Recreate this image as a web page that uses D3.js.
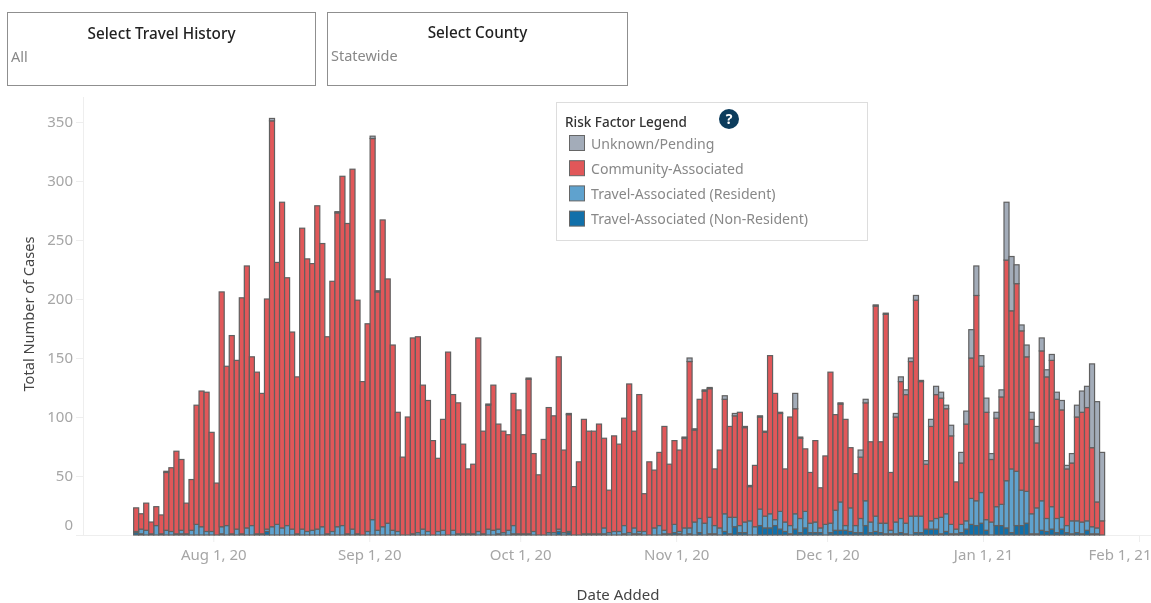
<!DOCTYPE html>
<html>
<head>
    <meta http-equiv="content-type" content="text/html; charset=utf-8" />
    <style>
        html, body { margin: 0; padding: 0; background: #fff; overflow: hidden; }
        svg { display: block; font-family: "Noto Sans", sans-serif; filter: blur(0.45px); }
    </style>
</head>
<body>
    <svg width="1151" height="603"></svg>

    <script src="https://d3js.org/d3.v7.min.js"></script>
    <script>
        // daily counts, first bar is Jul 17 2020, last is Jan 25 2021
        const firstDay = new Date(2020, 6, 17)

        const nonResident = [
            2,1,0,0,0,0,0,0,0,1, 0,0,0,0,0,0,0,1,0,0,
            0,0,0,0,0,0,3,0,0,0, 0,0,0,0,0,0,0,0,0,0,
            0,0,0,0,0,0,0,0,0,0, 0,0,0,0,0,0,0,0,0,0,
            0,0,0,0,0,0,0,0,0,0, 0,0,1,0,0,1,0,0,0,0,
            0,0,0,0,3,0,2,0,0,0, 0,0,0,1,0,0,0,1,0,1,
            1,0,0,0,0,1,0,2,1,0, 1,0,2,0,1,1,0,3,1,7,
            2,2,0,0,8,6,6,8,5,3, 1,5,2,6,2,2,2,0,2,4,
            4,4,3,2,2,8,2,3,2,1, 1,1,2,1,0,2,2,5,5,5,
            1,3,1,1,2,5,9,8,10,4, 0,8,8,6,2,8,8,10,1,1,
            4,3,5,2,5,2,1,2,1,4, 1,1,0
        ]
        const resident = [
            1,4,4,1,8,1,4,3,1,3, 1,4,9,7,3,3,0,6,8,1,
            5,1,6,8,1,1,2,7,9,6, 8,5,1,5,3,4,5,7,1,3,
            7,8,1,5,1,0,3,13,4,7, 10,4,3,0,0,1,2,5,3,0,
            3,4,0,4,1,1,1,1,3,1, 5,4,4,2,4,7,1,1,1,3,
            0,0,2,2,2,2,1,0,0,1, 1,1,1,5,2,3,3,7,2,5,
            2,3,0,6,8,3,1,7,2,6, 5,11,12,10,14,7,6,15,14,8,
            6,9,12,7,14,10,12,5,15,8, 7,13,12,14,8,9,4,9,8,17,
            24,4,20,6,12,21,9,13,8,9, 3,10,12,9,16,14,14,0,7,9,
            14,15,8,4,7,7,22,21,26,9, 11,16,18,40,54,46,30,27,17,22,
            25,11,19,12,10,6,11,10,10,8, 6,5,0
        ]
        const community = [
            20,13,23,10,16,16,49,54,70,60, 26,43,101,115,118,84,44,199,135,168,
            143,200,222,143,137,119,195,344,222,276, 210,167,133,255,231,226,274,240,167,212,
            266,296,263,305,198,130,176,323,202,260, 207,157,101,66,100,166,166,122,111,80,
            62,94,155,115,111,76,55,59,164,87, 105,123,89,86,81,112,105,84,131,66,
            51,81,106,99,146,70,99,41,62,97, 87,87,93,76,36,81,74,91,126,82,
            116,32,62,49,62,88,59,71,69,76, 141,78,101,112,109,48,66,97,77,86,
            96,80,29,52,78,71,134,107,83,45, 92,89,68,53,43,69,34,58,128,81,
            83,90,51,44,52,83,68,178,69,177, 49,89,116,109,131,183,114,55,80,105,
            101,89,75,40,52,82,119,174,107,91, 53,75,91,187,134,159,135,114,80,55,
            127,120,124,101,91,48,49,88,93,96, 67,22,12
        ]
        const unknown = [
            0,0,0,0,0,0,1,0,0,0, 0,0,0,0,0,0,0,0,0,0,
            0,0,0,0,0,0,0,2,0,0, 0,0,0,0,0,0,0,0,0,0,
            1,0,0,0,0,0,0,2,1,0, 0,0,0,0,0,0,0,0,0,0,
            0,0,0,0,0,0,0,0,0,0, 1,0,0,0,0,0,0,0,1,0,
            0,0,0,0,0,0,1,0,0,0, 0,0,0,0,0,0,0,0,0,0,
            0,0,0,0,0,0,0,0,0,1, 3,1,0,1,1,0,0,3,0,2,
            0,1,1,0,1,1,0,0,1,0, 0,13,1,0,0,0,0,0,0,0,
            1,0,0,0,6,3,0,1,0,1, 0,3,4,4,3,4,1,3,6,7,
            5,3,9,0,9,11,24,25,9,12, 5,5,6,49,46,16,5,10,6,14,
            11,6,5,6,8,3,8,10,18,18, 71,85,58
        ]

        const seriesNames = ['Unknown/Pending', 'Community-Associated', 'Travel-Associated (Resident)', 'Travel-Associated (Non-Resident)']
        const seriesColors = ['#a3acb9', '#e15759', '#5fa2ce', '#1170aa']

        const yTicks = [0, 50, 100, 150, 200, 250, 300, 350]
        const xTicks = [new Date(2020, 7, 1), new Date(2020, 8, 1), new Date(2020, 9, 1), new Date(2020, 10, 1), new Date(2020, 11, 1), new Date(2021, 0, 1), new Date(2021, 1, 1)]

        const svg = d3.select('svg')

        const x = d3.scaleTime()
            .domain([xTicks[0], xTicks[6]])
            .range([213.3, 1139])
        const y = d3.scaleLinear()
            .domain([0, 350])
            .range([535, 122])

        // table for the stack, one row per day
        const rows = community.map((c, i) => ({
            date: d3.timeHour.offset(d3.timeDay.offset(firstDay, i), -8),
            nonResident: nonResident[i],
            resident: resident[i],
            community: c,
            unknown: unknown[i]
        }))

        // bottom segment first
        const keys = ['nonResident', 'resident', 'community', 'unknown']
        const colorOf = { nonResident: seriesColors[3], resident: seriesColors[2], community: seriesColors[1], unknown: seriesColors[0] }
        const stacked = d3.stack().keys(keys)(rows)

        const barW = 5.03

        // axes
        const yAxis = d3.axisLeft(y).tickValues(yTicks).tickSize(7).tickPadding(3)
        const xAxis = d3.axisBottom(x).tickValues(xTicks).tickSize(7).tickPadding(7)
            .tickFormat(d3.timeFormat('%b %-d, %y'))

        const gy = svg.append('g').attr('transform', 'translate(83,0)').call(yAxis)
        const gx = svg.append('g').attr('transform', 'translate(0,535)').call(xAxis)

        gy.select('.domain').attr('d', 'M0.5,97V535').attr('stroke', '#eeeeee')
        gx.select('.domain').attr('d', 'M83,0.5H1151').attr('stroke', '#eeeeee')
        svg.selectAll('.tick line').attr('stroke', '#eeeeee')
        svg.selectAll('.tick text').attr('fill', '#a6a6a6').attr('font-size', 15).attr('font-family', '"Noto Sans", sans-serif')

        // first label sits above the baseline, last one is pulled in from the edge
        gy.selectAll('.tick text').filter(d => d === 0).attr('y', -10)
        gx.selectAll('.tick text').filter(d => +d === +xTicks[6]).attr('text-anchor', 'end').attr('x', 12)

        // bars
        svg.append('g').selectAll('g')
            .data(stacked)
            .join('g')
            .attr('fill', d => colorOf[d.key])
            .selectAll('rect')
            .data(d => d.filter(p => p[1] > p[0]))
            .join('rect')
            .attr('x', d => x(d.data.date) - barW / 2)
            .attr('y', d => y(d[1]))
            .attr('width', barW)
            .attr('height', d => y(d[0]) - y(d[1]))
            .attr('stroke', '#606060')
            .attr('stroke-width', 1.2)

        // axis titles
        svg.append('text')
            .attr('x', 618).attr('y', 600)
            .attr('text-anchor', 'middle')
            .attr('fill', '#444').attr('font-size', 15)
            .text('Date Added')
        svg.append('text')
            .attr('transform', 'translate(34,314) rotate(-90)')
            .attr('text-anchor', 'middle')
            .attr('fill', '#444').attr('font-size', 14.6)
            .text('Total Number of Cases')

        // the two filter cards
        const cardTitles = ['Select Travel History', 'Select County']
        const cardValues = ['All', 'Statewide']
        const cardX = [7.5, 327.5]
        const cardW = [308, 300]
        const cardDy = [0, -1]

        cardTitles.forEach((t, i) => {
            svg.append('rect')
                .attr('x', cardX[i]).attr('y', 12.5)
                .attr('width', cardW[i]).attr('height', 73)
                .attr('fill', '#fff').attr('stroke', '#8f8f8f')
            svg.append('text')
                .attr('x', cardX[i] + cardW[i] / 2).attr('y', 39 + cardDy[i])
                .attr('text-anchor', 'middle')
                .attr('fill', '#222').attr('font-size', 15.3).attr('font-weight', 500)
                .text(t)
            svg.append('text')
                .attr('x', cardX[i] + 3.5).attr('y', 62 + cardDy[i])
                .attr('fill', '#888').attr('font-size', 14.5)
                .text(cardValues[i])
        })

        // legend
        const legend = svg.append('g')
        legend.append('rect')
            .attr('x', 556.5).attr('y', 102.5)
            .attr('width', 311).attr('height', 138)
            .attr('fill', '#fff').attr('stroke', '#dddddd')
        legend.append('text')
            .attr('x', 565).attr('y', 127)
            .attr('fill', '#333').attr('font-size', 13.5).attr('font-weight', 500)
            .text('Risk Factor Legend')
        legend.append('circle')
            .attr('cx', 729).attr('cy', 119).attr('r', 10)
            .attr('fill', '#0c3c5c')
        legend.append('text')
            .attr('x', 729).attr('y', 124)
            .attr('text-anchor', 'middle')
            .attr('fill', '#fff').attr('font-size', 14).attr('font-weight', 700)
            .text('?')

        seriesNames.forEach((name, i) => {
            legend.append('rect')
                .attr('x', 569.5).attr('y', 135.5 + i * 25.2)
                .attr('width', 15).attr('height', 15)
                .attr('fill', seriesColors[i]).attr('stroke', '#666')
            legend.append('text')
                .attr('x', 591).attr('y', 148.5 + i * 25.2)
                .attr('fill', '#888').attr('font-size', 14.1)
                .text(name)
        })
    </script>
</body>
</html>
